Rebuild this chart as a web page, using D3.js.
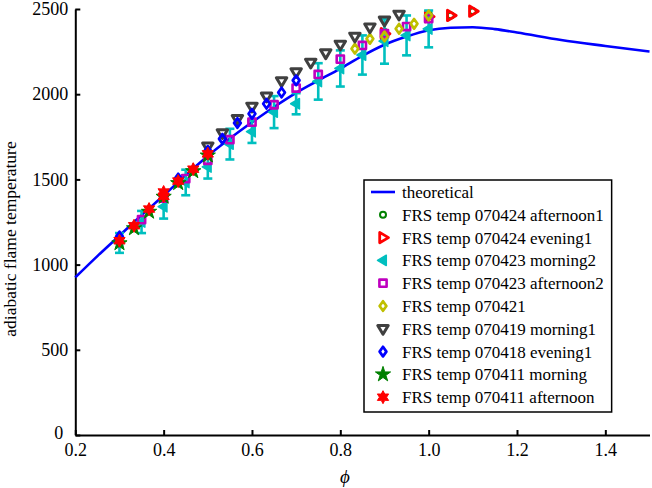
<!DOCTYPE html>
<html><head><meta charset="utf-8">
<script src="https://cdn.jsdelivr.net/npm/d3@7"></script>
<style>
body{margin:0;background:#fff}
svg{display:block}
text{font-family:"Liberation Serif","Times New Roman",serif;fill:#000}
</style>
</head><body>
<svg id="c" width="652" height="488"></svg>
<script>
// ---------- data ----------
const xTicks = [0.2, 0.4, 0.6, 0.8, 1.0, 1.2, 1.4];
const yTicks = [0, 500, 1000, 1500, 2000, 2500];

const theoPhi = [0.2, 0.25, 0.3, 0.35, 0.4, 0.45, 0.5, 0.55, 0.6, 0.65, 0.7, 0.75, 0.8, 0.85, 0.9, 0.95, 1.0, 1.05, 1.1, 1.15, 1.2, 1.3, 1.4, 1.5];
const theoT   = [925, 1050, 1170, 1290, 1405, 1525, 1638, 1740, 1835, 1925, 2008, 2080, 2150, 2225, 2290, 2338, 2375, 2390, 2393, 2382, 2362, 2318, 2283, 2250];

const afternoon1Phi = [0.9, 1.0, 1.05, 1.1];
const afternoon1T   = [2365, 2470, 2462, 2487];

const evening1Phi = [0.9, 1.0, 1.05, 1.1];
const evening1T   = [2355, 2455, 2462, 2487];

const morning2Phi = [0.3, 0.35, 0.4, 0.45, 0.5, 0.55, 0.6, 0.65, 0.7, 0.75, 0.8, 0.85, 0.9, 0.95, 1.0];
const morning2T   = [1127, 1250, 1340, 1482, 1573, 1707, 1780, 1895, 1944, 2075, 2151, 2230, 2311, 2345, 2383];
const morning2Err = [58, 65, 70, 75, 68, 90, 66, 94, 62, 107, 106, 115, 132, 117, 108];

const afternoon2Phi = [0.35, 0.4, 0.45, 0.5, 0.55, 0.6, 0.65, 0.7, 0.75, 0.8, 0.85, 0.9, 0.95, 1.0];
const afternoon2T   = [1264, 1390, 1505, 1612, 1733, 1836, 1938, 2036, 2116, 2206, 2286, 2355, 2397, 2443];

const d070421Phi = [0.833, 0.867, 0.9, 0.933, 0.967, 1.0];
const d070421T   = [2267, 2325, 2339, 2384, 2413, 2462];

const morning1Phi = [0.5, 0.533, 0.567, 0.6, 0.633, 0.667, 0.7, 0.733, 0.767, 0.8, 0.833, 0.867, 0.9, 0.933];
const morning1T   = [1694, 1772, 1856, 1928, 1987, 2077, 2130, 2186, 2241, 2292, 2339, 2393, 2433, 2468];

const evening18Phi = [0.3, 0.433, 0.5, 0.533, 0.567, 0.6, 0.633, 0.667, 0.7];
const evening18T   = [1165, 1505, 1667, 1738, 1831, 1885, 1944, 2010, 2081];

const morning11Phi = [0.3, 0.333, 0.367, 0.4, 0.433, 0.467, 0.5];
const morning11T   = [1125, 1213, 1310, 1398, 1478, 1548, 1640];

const afternoon11Phi = [0.3, 0.333, 0.367, 0.4, 0.4, 0.433, 0.467, 0.5];
const afternoon11T   = [1140, 1228, 1326, 1401, 1426, 1490, 1560, 1650];

const legendLabels = ["theoretical", "FRS temp 070424 afternoon1", "FRS temp 070424 evening1", "FRS temp 070423 morning2",
  "FRS temp 070423 afternoon2", "FRS temp 070421", "FRS temp 070419 morning1", "FRS temp 070418 evening1",
  "FRS temp 070411 morning", "FRS temp 070411 afternoon"];

// ---------- setup ----------
const svg = d3.select("#c");
const x = d3.scaleLinear().domain([0.2, 1.5]).range([75.3, 649.5]);
const y = d3.scaleLinear().domain([0, 2500]).range([435, 9]);

function markerPath(type, s) {
  const p = d3.path();
  if (type === "circle") { p.arc(0, 0, s, 0, 2 * Math.PI); p.closePath(); }
  else if (type === "square") { p.rect(-s, -s, 2 * s, 2 * s); }
  else if (type === "diamond") { p.moveTo(0, -s * 1.2); p.lineTo(s * 0.85, 0); p.lineTo(0, s * 1.2); p.lineTo(-s * 0.85, 0); p.closePath(); }
  else if (type === "triRight") { p.moveTo(s, 0); p.lineTo(-s * 0.6, -s * 0.95); p.lineTo(-s * 0.6, s * 0.95); p.closePath(); }
  else if (type === "triLeft") { p.moveTo(-s, 0); p.lineTo(s * 0.6, -s * 0.95); p.lineTo(s * 0.6, s * 0.95); p.closePath(); }
  else if (type === "triDown") { p.moveTo(0, s); p.lineTo(-s * 0.95, -s * 0.6); p.lineTo(s * 0.95, -s * 0.6); p.closePath(); }
  else if (type === "pentagram" || type === "hexagram") {
    const n = type === "pentagram" ? 5 : 6;
    const r2 = type === "pentagram" ? s * 0.38 : s * 0.55;
    for (let i = 0; i < 2 * n; i++) {
      const a = -Math.PI / 2 + i * Math.PI / n;
      const r = i % 2 === 0 ? s : r2;
      if (i === 0) p.moveTo(r * Math.cos(a), r * Math.sin(a)); else p.lineTo(r * Math.cos(a), r * Math.sin(a));
    }
    p.closePath();
  }
  return p.toString();
}

const series = [
  { phi: afternoon1Phi, T: afternoon1T, type: "circle", size: 3, stroke: "#008000", fill: "none", sw: 2 },
  { phi: evening1Phi, T: evening1T, type: "triRight", size: 5.5, stroke: "#ff0000", fill: "none", sw: 2.8 },
  { phi: morning2Phi, T: morning2T, type: "triLeft", size: 5.5, stroke: "#00bfbf", fill: "#00bfbf", sw: 1.5, err: morning2Err },
  { phi: afternoon2Phi, T: afternoon2T, type: "square", size: 3.6, stroke: "#bf00bf", fill: "none", sw: 2.6 },
  { phi: d070421Phi, T: d070421T, type: "diamond", size: 4, stroke: "#bfbf00", fill: "none", sw: 2.7 },
  { phi: morning1Phi, T: morning1T, type: "triDown", size: 5.5, stroke: "#404040", fill: "none", sw: 3 },
  { phi: evening18Phi, T: evening18T, type: "diamond", size: 4, stroke: "#0000ff", fill: "none", sw: 2.7 },
  { phi: morning11Phi, T: morning11T, type: "pentagram", size: 8, stroke: "#008000", fill: "#008000", sw: 1 },
  { phi: afternoon11Phi, T: afternoon11T, type: "hexagram", size: 6.5, stroke: "#ff0000", fill: "#ff0000", sw: 1 }
];

// ---------- axes ----------
const xAxis = d3.axisBottom(x).tickValues(xTicks).tickFormat(d3.format(".1f")).tickSizeInner(-5).tickSizeOuter(0).tickPadding(8);
const yAxis = d3.axisLeft(y).tickValues(yTicks).tickFormat(d3.format("d")).tickSizeInner(-5).tickSizeOuter(0).tickPadding(7);

const gx = svg.append("g").attr("transform", "translate(0,435)").call(xAxis);
const gy = svg.append("g").attr("transform", "translate(75.3,0)").call(yAxis);
[gx, gy].forEach(g => {
  g.select(".domain").attr("stroke", "#000").attr("stroke-width", 2);
  g.selectAll(".tick line").attr("stroke", "#000").attr("stroke-width", 2);
  g.selectAll(".tick text").attr("font-family", "'Liberation Serif', serif").attr("font-size", 18).attr("fill", "#000");
});
// keep the "0" of the y axis clear of the "0.2" of the x axis
gy.selectAll(".tick").filter(d => d === 0).select("text").attr("dx", -5).attr("dy", "0.2em");

svg.append("text").attr("x", 345).attr("y", 483).attr("text-anchor", "middle")
  .attr("font-size", 19).attr("font-style", "italic").text("\u03D5");
svg.append("text").attr("transform", "translate(16,239) rotate(-90)").attr("text-anchor", "middle")
  .attr("font-size", 17.5).text("adiabatic flame temperature");

// ---------- theoretical line ----------
const theo = theoPhi.map((p, i) => [p, theoT[i]]);
svg.append("path").datum(theo)
  .attr("d", d3.line().x(d => x(d[0])).y(d => y(d[1])).curve(d3.curveMonotoneX))
  .attr("fill", "none").attr("stroke", "#0000ff").attr("stroke-width", 2.6);

// ---------- series ----------
series.forEach(s => {
  const pts = s.phi.map((p, i) => ({ p, t: s.T[i], e: s.err ? s.err[i] : 0 }));
  const g = svg.append("g");
  if (s.err) {
    const eb = g.selectAll("g.eb").data(pts).enter().append("g")
      .attr("stroke", s.stroke).attr("stroke-width", 2.6).attr("fill", "none");
    eb.append("line").attr("x1", d => x(d.p)).attr("x2", d => x(d.p)).attr("y1", d => y(d.t - d.e)).attr("y2", d => y(d.t + d.e));
    eb.append("line").attr("x1", d => x(d.p) - 4.5).attr("x2", d => x(d.p) + 4.5).attr("y1", d => y(d.t - d.e)).attr("y2", d => y(d.t - d.e));
    eb.append("line").attr("x1", d => x(d.p) - 4.5).attr("x2", d => x(d.p) + 4.5).attr("y1", d => y(d.t + d.e)).attr("y2", d => y(d.t + d.e));
  }
  g.selectAll("path.m").data(pts).enter().append("path")
    .attr("transform", d => `translate(${x(d.p)},${y(d.t)})`)
    .attr("d", markerPath(s.type, s.size))
    .attr("fill", s.fill).attr("stroke", s.stroke).attr("stroke-width", s.sw).attr("stroke-linejoin", "round");
});

// ---------- legend ----------
const lg = svg.append("g");
const box = lg.append("rect").attr("x", 364).attr("y", 180).attr("height", 232).attr("fill", "#fff")
  .attr("stroke", "#000").attr("stroke-width", 1.5);
const rowY = i => 192 + i * 22.8;
let maxW = 0;
legendLabels.forEach((lab, i) => {
  const t = lg.append("text").attr("x", 402).attr("y", rowY(i)).attr("dy", "0.35em").attr("font-size", 17).text(lab);
  maxW = Math.max(maxW, t.node().getComputedTextLength());
  if (i === 0) {
    lg.append("line").attr("x1", 371).attr("x2", 395).attr("y1", rowY(i)).attr("y2", rowY(i))
      .attr("stroke", "#0000ff").attr("stroke-width", 2.6);
  } else {
    const s = series[i - 1];
    lg.append("path").attr("transform", `translate(383,${rowY(i)})`).attr("d", markerPath(s.type, s.size))
      .attr("fill", s.fill).attr("stroke", s.stroke).attr("stroke-width", s.sw).attr("stroke-linejoin", "round");
  }
});
box.attr("width", 402 - 364 + maxW + 8);
</script>
</body></html>
